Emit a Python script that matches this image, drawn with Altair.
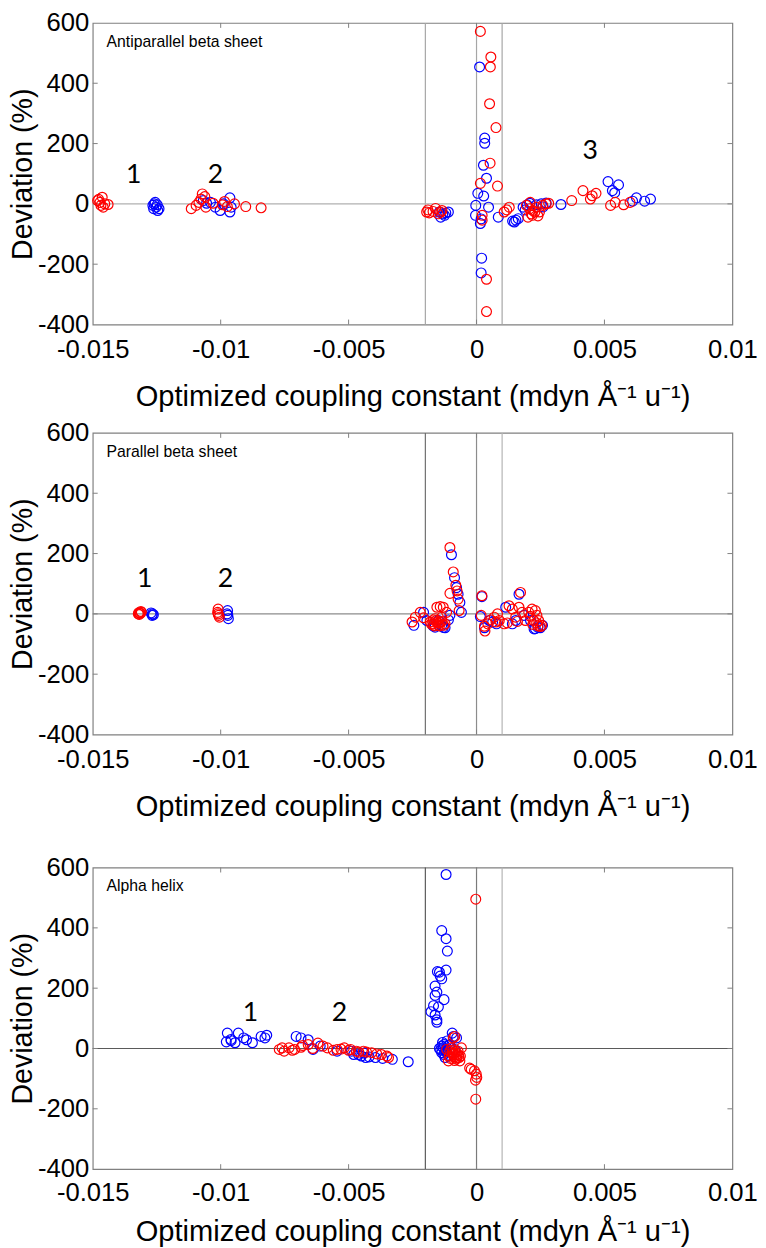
import altair as alt
import pandas as pd

# ---------------- data ----------------
X_TICKS = [-0.015, -0.01, -0.005, 0, 0.005, 0.01]
Y_TICKS = [-400, -200, 0, 200, 400, 600]
VLINES = [-0.002, 0, 0.001]
X_TITLE = "Optimized coupling constant (mdyn Å⁻¹ u⁻¹)"
Y_TITLE = "Deviation (%)"

PANEL_TITLES = ["Antiparallel beta sheet", "Parallel beta sheet", "Alpha helix"]

# Panel 1 : antiparallel beta sheet
P1_RED_X = [-0.01472, -0.01453, -0.01463, -0.01481, -0.0144, -0.01459, -0.01468, -0.01477,
            -0.01115, -0.01096, -0.01072, -0.01077, -0.01058, -0.0103, -0.00993, -0.00974, -0.00946,
            -0.00902, -0.00842, -0.01085, -0.01062, -0.00985,
            -0.0019, -0.00185, -0.0017, -0.0016, -0.0015, -0.00195, -0.00135, -0.0014,
            0.00015, 0.00056, 0.00054, 0.00051, 0.00076, 0.00053, 0.00015, 0.00082, 0.00039, 0.00039,
            0.00022, 0.00022,
            0.00108, 0.00118, 0.00128,
            0.00195, 0.00208, 0.00214, 0.00221, 0.00234, 0.00246, 0.00259, 0.00272, 0.00282, 0.00201,
            0.00218, 0.00228, 0.0021, 0.0024,
            0.00372, 0.00416, 0.00445, 0.00452, 0.00467, 0.00524, 0.00542, 0.00575, 0.0060]
P1_RED_Y = [5, 0, 22, 11, -2, -11, -5, 15,
            -16, -5, 33, 16, -11, 2, -3, -9, 0,
            -9, -13, 5, 24, 8,
            -20, -30, -25, -15, -33, -27, -22, -28,
            572, 487, 454, 332, 253, 135, 68, 59, -250, -357,
            -38, -54,
            -27, -20, -11,
            -5, -16, -33, -22, -11, -27, -5, 0, 2, -44,
            -38, -27, 5, -40,
            11, 44, 16, 27, 35, -5, 5, -3, 5]
P1_BLUE_X = [-0.0126, -0.01252, -0.01265, -0.01241, -0.01256, -0.01246, -0.01262, -0.01248,
             -0.01068, -0.0104, -0.01002, -0.00989, -0.00964, -0.00959, -0.00964, -0.01021, -0.01055,
             -0.00145, -0.00132, -0.0012, -0.0011, -0.0014, -0.00125,
             0.00012, 0.00032, 0.00032, 0.00027, 0.00039, 0.00005, 0.00028, -0.00003, 0.00047, -0.00004,
             0.00015, 0.0002, 0.00018, 0.00018,
             0.00085, 0.00141, 0.00154, 0.00163, 0.00148,
             0.00182, 0.00198, 0.00208, 0.00234, 0.00253, 0.00272, 0.0019, 0.0026,
             0.0033, 0.00514, 0.00531, 0.00555, 0.0054, 0.00625, 0.00657, 0.0068, 0.0061]
P1_BLUE_Y = [0, -11, -5, -16, 5, -22, -16, -3,
             11, 5, -22, 0, 20, -11, -27, -11, 2,
             -27, -33, -30, -27, -44, -38,
             454, 218, 201, 128, 85, 35, 26, -5, -11, -38,
             -65, -180, -229, -50,
             -44, -57, -54, -49, -60,
             -11, -3, 2, -3, 0, 3, -20, -10,
             -2, 74, 44, 63, 37, 20, 9, 16, 9]

# Panel 2 : parallel beta sheet
P2_RED_X = [-0.01316, -0.01322, -0.0131, -0.01318, -0.01312, -0.01314, -0.0132,
            -0.0101, -0.0101, -0.01005, -0.01012, -0.01008,
            -0.00104, -0.00091, -0.00081, -0.00076, -0.00104, -0.00072, -0.00068,
            0.00021, 0.00018, 0.00031, 0.00033,
            -0.00252, -0.00239, -0.0022, -0.00207, -0.00181, -0.00168, -0.00155, -0.00142, -0.0013,
            -0.00155, -0.00142, -0.00123, -0.00168, -0.00136, -0.00117, -0.00162, -0.00149,
            -0.00175, -0.00165, -0.0015, -0.00158, -0.00145, -0.00128, -0.00135,
            0.00056, 0.00069, 0.00082, 0.00089, 0.00108, 0.00127, 0.0014, 0.00153, 0.00172, 0.00166,
            0.00178, 0.00191, 0.00204, 0.00217, 0.0023, 0.00236, 0.00243, 0.00255, 0.00223, 0.00044,
            0.00076, 0.0022, 0.0024, 0.0025, 0.00235, 0.0021, 0.0016, 0.0012]
P2_RED_Y = [3, 0, 5, -2, 8, 2, 4,
            16, 0, -11, 5, -5,
            220, 139, 95, 76, 68, 49, 11,
            60, -5, -41, -57,
            -27, -11, 5, -13, -27, -20, 22, 24, 22,
            -27, -27, -33, -33, -11, 5, -16, -38,
            -35, -40, -30, -22, -40, -38, -25,
            -20, -11, 0, -22, -33, 27, 16, -11, 71, 22,
            5, -22, 5, 16, 11, -5, -22, -38, -22, -33,
            -27, -35, -40, -42, -30, -8, -25, -30]
P2_BLUE_X = [-0.01267, -0.01272, -0.01263, -0.01268,
             -0.00973, -0.00972, -0.0097, -0.00975,
             -0.00098, -0.00086, -0.00078, -0.00072, -0.00065, -0.00059,
             0.00021, 0.00015, 0.00031,
             -0.00245, -0.00207, -0.00194, -0.00162, -0.00149, -0.00123, -0.0011, -0.00136, -0.00104,
             -0.0017, -0.0013,
             0.00063, 0.00078, 0.00114, 0.0014, 0.00166, 0.00185, 0.00211, 0.0023, 0.00249, 0.00258,
             0.0005, 0.00153, 0.0024, 0.00225]
P2_BLUE_Y = [0, 3, -3, -5,
             11, -5, -16, 0,
             196, 120, 87, 65, 38, 5,
             57, -9, -46,
             -38, 5, -22, -44, -22, -46, -20, -38, -5,
             -40, -45,
             -27, -33, 22, -33, 65, -5, -22, -49, -46, -38,
             -22, -22, -45, -50]

# Panel 3 : alpha helix
P3_RED_X = [-0.00771, -0.00752, -0.00733, -0.00711, -0.00686, -0.00658, -0.0062, -0.00583,
            -0.00545, -0.00517, -0.00492, -0.0047, -0.00442, -0.0041, -0.00372, -0.00344,
            -0.0076, -0.0072, -0.0068, -0.0064, -0.006, -0.0056, -0.0053, -0.005, -0.0046, -0.0043,
            -0.0039, -0.0035,
            -0.00003, -0.00003, -0.00021, -0.00008, -0.00001, 0.00001, -0.00004, -0.00027,
            -0.00104, -0.00091, -0.00078, -0.00065, -0.0011, -0.00059, -0.00091, -0.00085,
            -0.00117, -0.00098, -0.00072, -0.00063, -0.00107,
            -0.00095, -0.00088, -0.00075, -0.0008, -0.00102, -0.00068, -0.00093, -0.00082, -0.0007,
            -0.00086]
P3_RED_Y = [-3, -9, 2, -3, 4, 13, 18, 2,
            -3, 2, -3, -9, -9, -14, -20, -30,
            2, -6, 10, 0, 8, -6, -2, -6, -12, -12,
            -18, -25,
            495, -168, -69, -74, -85, -96, -105, -65,
            -9, -20, -30, -41, -41, 2, 35, 40,
            -3, 2, -9, -25, -25,
            -15, -28, -18, -35, -33, -30, -5, -10, -22,
            -40]
P3_BLUE_X = [-0.00974, -0.00978, -0.00959, -0.00944, -0.00931, -0.00899, -0.00876, -0.00842,
             -0.00827, -0.0082, -0.0096, -0.0091,
             -0.00705, -0.00686, -0.00658, -0.00639, -0.00611, -0.00545, -0.00489, -0.00461,
             -0.00433, -0.00395, -0.00367, -0.00329, -0.00267,
             -0.0045, -0.0042, -0.0048, -0.0044,
             -0.00119, -0.00136, -0.00119, -0.00114, -0.00119, -0.00153, -0.00145, -0.00136, -0.00142,
             -0.00162, -0.00155, -0.00162, -0.00127, -0.00168, -0.00149, -0.00178, -0.00162, -0.00155,
             -0.00155, -0.00095, -0.00091,
             -0.0013, -0.00117, -0.00136, -0.00123, -0.00104, -0.00085, -0.00078, -0.00127, -0.0011,
             -0.00136, -0.0014, -0.00133, -0.00121, -0.00128, -0.00145, -0.0011, -0.00115, -0.0012]
P3_BLUE_Y = [51, 22, 26, 19, 51, 29, 19, 40,
             35, 44, 30, 35,
             40, 35, 29, -3, 8, -9, -9, -20,
             -30, -30, -33, -36, -44,
             -25, -28, -20, -15,
             577, 391, 364, 323, 260, 255, 253, 231, 240,
             207, 187, 176, 162, 142, 138, 122, 111, 95,
             87, 51, 40,
             2, -9, -14, -30, 13, -3, 35, 13, -22,
             8, -5, 20, -5, -20, 0, 10, 25, -12]

# cluster number labels
P1_LAB = ["1", "2", "3"]
P1_LAB_X = [-0.0134, -0.0102, 0.00444]
P1_LAB_Y = [97, 97, 175]
P2_LAB = ["1", "2"]
P2_LAB_X = [-0.01297, -0.00981]
P2_LAB_Y = [114, 114]
P3_LAB = ["1", "2"]
P3_LAB_X = [-0.00884, -0.00536]
P3_LAB_Y = [117, 117]

# panel title anchor (data coordinates)
TITLE_X = -0.01446
TITLE_Y = 538

# line colours per panel (x=-0.002, x=0, x=0.001 ; y=0)
P1_VCOL = ["#a6a6a6", "#a6a6a6", "#a6a6a6"]
P1_HCOL = "#b0b0b0"
P2_VCOL = ["#6e6e6e", "#8c8c8c", "#b4b4b4"]
P2_HCOL = "#8c8c8c"
P3_VCOL = ["#5a5a5a", "#7a7a7a", "#b4b4b4"]
P3_HCOL = "#5a5a5a"

W, H = 649, 306
BLUE, RED = "#0000ff", "#ff0000"
FRAME = "#808080"
FONT = "Liberation Sans"


def panel(bx, by, rx, ry, title, labs, lab_x, lab_y, vcol, hcol, lab_pad, title_pad):
    pts = pd.DataFrame({
        "x": list(bx) + list(rx),
        "y": list(by) + list(ry),
        "c": [BLUE] * len(bx) + [RED] * len(rx),
    })
    xscale = alt.Scale(domain=[X_TICKS[0], X_TICKS[-1]], nice=False, zero=False)
    yscale = alt.Scale(domain=[Y_TICKS[0], Y_TICKS[-1]], nice=False, zero=False)
    xaxis = alt.Axis(values=X_TICKS, labelExpr="'' + datum.value", grid=False, ticks=False,
                     domain=False, labelFontSize=26, labelFont=FONT, labelColor="#000000",
                     labelPadding=lab_pad, title=X_TITLE, titleFont=FONT, titleFontSize=29.5,
                     titleFontWeight="normal", titleColor="#000000", titlePadding=title_pad,
                     labelFlush=False)
    yaxis = alt.Axis(values=Y_TICKS, labelExpr="'' + datum.value", grid=False, ticks=False,
                     domain=False, labelFontSize=26, labelFont=FONT, labelColor="#000000",
                     labelPadding=4, title=Y_TITLE, titleFont=FONT, titleFontSize=29,
                     titleFontWeight="normal", titleColor="#000000", titlePadding=0,
                     labelFlush=False)

    vl = pd.DataFrame({"x": VLINES, "col": vcol})
    vrules = alt.Chart(vl).mark_rule(strokeWidth=1.2).encode(
        x=alt.X("x:Q", scale=xscale, axis=xaxis),
        color=alt.Color("col:N", scale=None),
    )
    hrule = alt.Chart(pd.DataFrame({"y": [0]})).mark_rule(strokeWidth=1.2, color=hcol).encode(
        y=alt.Y("y:Q", scale=yscale, axis=yaxis),
    )
    xt = pd.DataFrame({"x": X_TICKS[1:-1]})
    yt = pd.DataFrame({"y": Y_TICKS[1:-1]})
    tick_b = alt.Chart(xt).mark_rule(color=FRAME).encode(
        x="x:Q", y=alt.value(H), y2=alt.value(H - 5))
    tick_t = alt.Chart(xt).mark_rule(color=FRAME).encode(
        x="x:Q", y=alt.value(0), y2=alt.value(5))
    tick_l = alt.Chart(yt).mark_rule(color=FRAME).encode(
        y="y:Q", x=alt.value(0), x2=alt.value(5))
    tick_r = alt.Chart(yt).mark_rule(color=FRAME).encode(
        y="y:Q", x=alt.value(W), x2=alt.value(W - 5))

    points = alt.Chart(pts).mark_point(shape="circle", filled=False, size=100,
                                       strokeWidth=1.2, opacity=1).encode(
        x="x:Q", y="y:Q", color=alt.Color("c:N", scale=None))

    labs_df = pd.DataFrame({"x": lab_x, "y": lab_y, "t": labs})
    nums = alt.Chart(labs_df).mark_text(font="Lato", fontSize=27, color="#000000",
                                        align="center", baseline="middle").encode(
        x="x:Q", y="y:Q", text="t:N")

    ttl = alt.Chart(pd.DataFrame({"x": [TITLE_X], "y": [TITLE_Y], "t": [title]})).mark_text(
        font=FONT, fontSize=16, color="#000000", align="left", baseline="middle").encode(
        x="x:Q", y="y:Q", text="t:N")

    return alt.layer(vrules, hrule, tick_b, tick_t, tick_l, tick_r, points, nums, ttl).properties(
        width=W, height=H)


p1 = panel(P1_BLUE_X, P1_BLUE_Y, P1_RED_X, P1_RED_Y, PANEL_TITLES[0], P1_LAB, P1_LAB_X, P1_LAB_Y,
           P1_VCOL, P1_HCOL, 12, 21)
p2 = panel(P2_BLUE_X, P2_BLUE_Y, P2_RED_X, P2_RED_Y, PANEL_TITLES[1], P2_LAB, P2_LAB_X, P2_LAB_Y,
           P2_VCOL, P2_HCOL, 12, 21)
p3 = panel(P3_BLUE_X, P3_BLUE_Y, P3_RED_X, P3_RED_Y, PANEL_TITLES[2], P3_LAB, P3_LAB_X, P3_LAB_Y,
           P3_VCOL, P3_HCOL, 11, 12)

top = alt.vconcat(p1, p2, spacing=7)
chart = alt.vconcat(top, p3, spacing=32).properties(
    padding={"left": 0, "top": -8, "right": 0, "bottom": 0},
).configure(
    background="white",
).configure_view(stroke=FRAME, strokeWidth=1.2)

chart.save("out.html", embed_options={"renderer": "svg", "actions": False})
